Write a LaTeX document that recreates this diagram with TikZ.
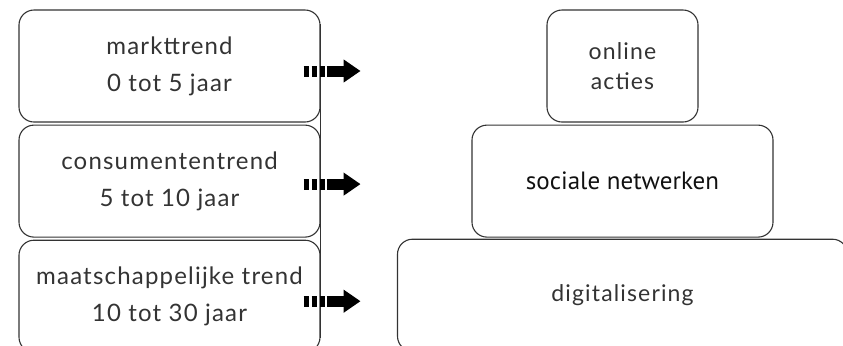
\documentclass[tikz,border=0pt]{standalone}
\usepackage{fontspec}
\setmainfont{Lato}[LetterSpace=5]
\newfontfamily\netfont{PT Sans}
\usetikzlibrary{arrows.meta, positioning}
\usepackage{xcolor}
\definecolor{boxGray}{HTML}{333333}
\definecolor{netBlack}{HTML}{111111}
\tikzset{
    % Boxes
    trendbox/.style={rectangle, draw=boxGray, line width=1.1bp, rounded corners=15bp,
                     minimum width=301bp, minimum height=112bp, inner sep=0pt, align=center,
                     text=boxGray, font=\fontsize{24bp}{37bp}\selectfont},
    layerbox/.style={trendbox, font=\fontsize{23bp}{30bp}\selectfont},
    % Arrows & edges
    trendarrow/.style={line width=11bp, black,
                       dash pattern=on 5bp off 3bp on 5bp off 3bp on 5bp off 2bp on 80bp,
                       -{Triangle[length=17bp, width=22bp]}},
    rim/.style={draw=boxGray, line width=1.1bp}
}

\begin{document}
\begin{tikzpicture}[x=1bp, y=-1bp, node distance=2bp]

\useasboundingbox (0,0) rectangle (843,345);

% left column: horizons
\node[trendbox] (markt) at (169.5,66) {markttrend\\0 tot 5 jaar};
\node[trendbox, below=of markt] (consu) {consumententrend\\5 tot 10 jaar};
\node[trendbox, below=of consu] (maat) {maatschappelijke trend\\10 tot 30 jaar};

% right column: layers
\node[layerbox, minimum width=151bp] (online) at (622.5,66) {online\\acties};
\node[layerbox, below=of online, text=netBlack, font=\netfont\fontsize{25bp}{30bp}\selectfont] (sociaal) {sociale netwerken};
\node[layerbox, minimum width=450bp, below=1bp of sociaal] (digi) {digitalisering};

\draw[rim] ([yshift=-15bp]markt.north east) -- ([yshift=15bp]maat.south east);

\coordinate (tip1) at ([xshift=40bp, yshift=-5bp]markt.east);
\coordinate (tip2) at ([xshift=40bp, yshift=-3bp]consu.east);
\coordinate (tip3) at ([xshift=40bp, yshift=-5bp]maat.east);

\draw[trendarrow] ([xshift=-17bp, yshift=-5bp]markt.east) -- (tip1);
\draw[trendarrow] ([xshift=-17bp, yshift=-3bp]consu.east) -- (tip2);
\draw[trendarrow] ([xshift=-17bp, yshift=-5bp]maat.east) -- (tip3);

\end{tikzpicture}
\end{document}
